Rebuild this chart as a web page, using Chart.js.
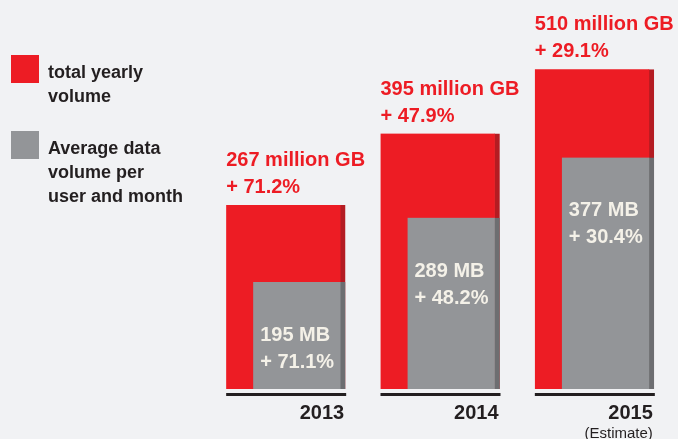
<!DOCTYPE html>
<html>
<head>
<meta charset="utf-8">
<script src="https://cdn.jsdelivr.net/npm/chart.js@4.4.0/dist/chart.umd.min.js"></script>
<style>
html, body { margin: 0; padding: 0; background: #f1f2f4; }
#wrap { width: 678px; height: 439px; }
</style>
</head>
<body>
<div id="wrap"><canvas id="myChart" width="678" height="439"></canvas></div>
<script>
const years = ['2013', '2014', '2015'];
const yearNotes = ['', '', '(Estimate)'];
const totalVolume = [267, 395, 510];        // million GB
const totalGrowth = [71.2, 47.9, 29.1];     // %
const perUser = [195, 289, 377];            // MB per user and month
const perUserGrowth = [71.1, 48.2, 30.4];   // %
const legendLines = [['total yearly', 'volume'], ['Average data', 'volume per', 'user and month']];

const RED = '#ed1c24', RED_DARK = '#b41c22';
const GREY = '#939598', GREY_DARK = '#6d6e71';
const INK = '#231f20';
const FONT = '"Liberation Sans", Arial, sans-serif';
const GREY_SHIFT = 13.5; // grey bars sit flush with the right edge of the red ones

/*---------------------------------------*/
const extras = {
  id: 'extras',
  beforeDatasetDraw(chart, args) {
    if (args.index === 1) {
      chart.ctx.save();
      chart.ctx.translate(GREY_SHIFT, 0);
    }
  },
  afterDatasetDraw(chart, args) {
    if (args.index === 1) chart.ctx.restore();
  },
  afterDraw(chart) {
    const ctx = chart.ctx;
    const red = chart.getDatasetMeta(0).data;
    const grey = chart.getDatasetMeta(1).data;
    const bottom = chart.chartArea.bottom;
    ctx.save();
    ctx.textBaseline = 'alphabetic';

    for (let i = 0; i < years.length; i++) {
      const r = red[i];
      const left = r.x - r.width / 2;
      const right = r.x + r.width / 2;

      // baseline under each group
      ctx.fillStyle = INK;
      ctx.fillRect(left, bottom + 4, r.width + 1, 3);

      // year + note
      ctx.textAlign = 'right';
      ctx.font = 'bold 20px ' + FONT;
      ctx.fillText(years[i], right - 1, bottom + 30);
      if (yearNotes[i]) {
        ctx.font = '15px ' + FONT;
        ctx.fillText(yearNotes[i], right - 1, bottom + 49);
      }

      // red labels above bar
      ctx.textAlign = 'left';
      ctx.fillStyle = RED;
      ctx.font = 'bold 20px ' + FONT;
      ctx.fillText(totalVolume[i] + ' million GB', left, r.y - 39);
      ctx.fillText('+ ' + totalGrowth[i].toFixed(1) + '%', left, r.y - 12);

      // grey labels inside bar
      const g = grey[i];
      const gl = g.x - g.width / 2 + GREY_SHIFT + 7;
      ctx.fillStyle = '#f4f1e8';
      ctx.fillText(perUser[i] + ' MB', gl, g.y + 59);
      ctx.fillText('+ ' + perUserGrowth[i].toFixed(1) + '%', gl, g.y + 86);
    }

    // legend
    const swatches = [RED, GREY];
    const tops = [55, 131];
    ctx.font = 'bold 18px ' + FONT;
    ctx.textAlign = 'left';
    for (let k = 0; k < 2; k++) {
      ctx.fillStyle = swatches[k];
      ctx.fillRect(11, tops[k], 28, 28);
      ctx.fillStyle = INK;
      legendLines[k].forEach(function(line, j) {
        ctx.fillText(line, 48, tops[k] + 23 + j * 24);
      });
    }
    ctx.restore();
  }
};

const data = {
  labels: years,
  datasets: [{
    label: 'total yearly volume',
    data: totalVolume,
    yAxisID: 'y',
    base: -62,
    order: 2,
    backgroundColor: RED,
    borderColor: RED_DARK,
    borderWidth: { top: 0, right: 5, bottom: 0, left: 0 },
    barThickness: 119,
    grouped: false
  }, {
    label: 'Average data volume per user and month',
    data: perUser,
    yAxisID: 'y2',
    base: 38.5,
    order: 1,
    backgroundColor: GREY,
    borderColor: GREY_DARK,
    borderWidth: { top: 0, right: 5, bottom: 0, left: 0 },
    barThickness: 92,
    grouped: false
  }]
};

const config = {
  type: 'bar',
  data: data,
  options: {
    responsive: false,
    animation: false,
    layout: { padding: { left: 208.5, right: 6.5, top: 19, bottom: 50 } },
    plugins: { legend: { display: false }, tooltip: { enabled: false } },
    scales: {
      x: { display: false, offset: true },
      y: { display: false, min: -62, max: 600 },
      y2: { display: false, min: 38.5, max: 579.5 }
    }
  },
  plugins: [extras]
};

const myChart = new Chart(document.getElementById('myChart'), config);
</script>
</body>
</html>
